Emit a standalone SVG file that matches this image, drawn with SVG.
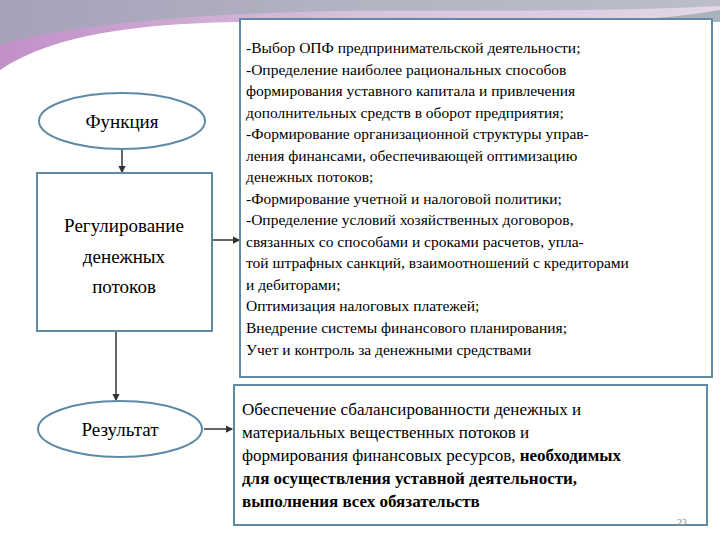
<svg xmlns="http://www.w3.org/2000/svg" width="720" height="540" viewBox="0 0 720 540">
<defs>
<linearGradient id="top" x1="0" y1="0" x2="1" y2="0">
<stop offset="0" stop-color="#9aa9b2"/><stop offset="1" stop-color="#aab3bd"/>
</linearGradient>
<linearGradient id="sw" x1="0" y1="0" x2="1" y2="0">
<stop offset="0" stop-color="#c38fc9"/><stop offset="0.5" stop-color="#d7c2dc"/><stop offset="1" stop-color="#e3d6e8"/>
</linearGradient>
<marker id="ar" viewBox="0 0 6 6" refX="5" refY="3" markerWidth="5" markerHeight="5" orient="auto"><path d="M0,0L6,3L0,6z" fill="#333"/></marker>
</defs>
<style>
text{font-family:'Liberation Serif','Times New Roman','DejaVu Serif',serif;fill:#000}
.n{fill:#fff;stroke:#5f8aa6;stroke-width:2}
.c{stroke:#333;stroke-width:1.5;fill:none;marker-end:url(#ar)}
</style>
<rect width="720" height="540" fill="#fff"/>
<path d="M0,0H720V22H0z" fill="url(#top)"/>
<path d="M0,70 C60,30 160,20 300,22 C450,24 600,30 720,10 V0 H0z" fill="url(#sw)"/>
<path d="M0,0H720V6 C560,14 400,8 300,12 C150,16 50,30 0,45z" fill="url(#top)" opacity="0.7"/>
<g id="connectors">
<line class="c" x1="122" y1="150" x2="122" y2="172"/>
<line class="c" x1="212" y1="240" x2="239" y2="240"/>
<line class="c" x1="116" y1="331" x2="116" y2="400"/>
<line class="c" x1="204" y1="429" x2="232" y2="429"/>
</g>
<g id="funkciya">
<ellipse class="n" cx="122" cy="121" rx="83" ry="28"/>
<text font-family="Liberation Serif, serif" x="122" y="128" font-size="19" text-anchor="middle">Функция</text>
</g>
<g id="regulirovanie">
<rect class="n" x="37" y="173" width="175" height="158"/>
<text font-family="Liberation Serif, serif" font-size="19" text-anchor="middle"><tspan x="124" y="232">Регулирование</tspan><tspan x="124" y="263">денежных</tspan><tspan x="124" y="293">потоков</tspan></text>
</g>
<g id="rezultat">
<ellipse class="n" cx="120" cy="429" rx="82" ry="28"/>
<text font-family="Liberation Serif, serif" x="120" y="436" font-size="19" text-anchor="middle">Результат</text>
</g>
<g id="tasks">
<rect class="n" x="240" y="19" width="472" height="358"/>
<text font-family="Liberation Serif, serif" font-size="15.5"><tspan x="246" y="53">-Выбор ОПФ предпринимательской деятельности;</tspan><tspan x="246" y="75">-Определение наиболее рациональных способов</tspan><tspan x="246" y="96">формирования уставного капитала и привлечения</tspan><tspan x="246" y="118">дополнительных средств в оборот предприятия;</tspan><tspan x="246" y="139">-Формирование организационной структуры управ-</tspan><tspan x="246" y="161">ления финансами, обеспечивающей оптимизацию</tspan><tspan x="246" y="182">денежных потоков;</tspan><tspan x="246" y="204">-Формирование учетной и налоговой политики;</tspan><tspan x="246" y="225">-Определение условий хозяйственных договоров,</tspan><tspan x="246" y="247">связанных со способами и сроками расчетов, упла-</tspan><tspan x="246" y="268">той штрафных санкций, взаимоотношений с кредиторами</tspan><tspan x="246" y="290">и дебиторами;</tspan><tspan x="246" y="311">Оптимизация налоговых платежей;</tspan><tspan x="246" y="333">Внедрение системы финансового планирования;</tspan><tspan x="246" y="355">Учет и контроль за денежными средствами</tspan></text>
</g>
<g id="result-text">
<rect class="n" x="234" y="385" width="473" height="140"/>
<text font-family="Liberation Serif, serif" font-size="17"><tspan x="242" y="415">Обеспечение сбалансированности денежных и</tspan><tspan x="242" y="438">материальных вещественных потоков и</tspan><tspan x="242" y="461">формирования финансовых ресурсов, <tspan font-weight="bold">необходимых</tspan></tspan><tspan x="242" y="484" font-weight="bold">для осуществления уставной деятельности,</tspan><tspan x="242" y="507" font-weight="bold">выполнения всех обязательств</tspan></text>
<text font-family="Liberation Serif, serif" x="677" y="526" font-size="10" style="fill:#888">23</text>
</g>
</svg>
